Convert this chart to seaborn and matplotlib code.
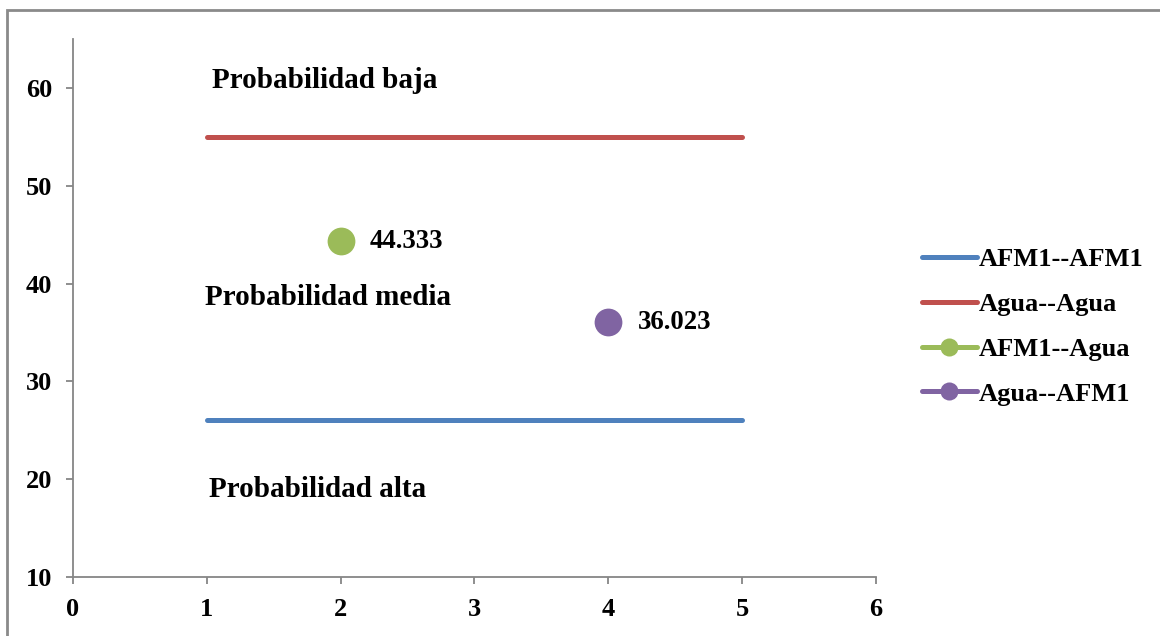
import matplotlib
matplotlib.use("Agg")
import matplotlib.pyplot as plt
from matplotlib.patches import Rectangle
import seaborn as sns
import pandas as pd

# Threshold lines (constant over x = 1..5)
line_x = [1, 5]
afm1_afm1 = [26.0, 26.0]
agua_agua = [55.0, 55.0]

# Cross-pair scores
afm1_agua_x = [2]
afm1_agua_y = [44.333]
agua_afm1_x = [4]
agua_afm1_y = [36.023]

series_names = ["AFM1--AFM1", "Agua--Agua", "AFM1--Agua", "Agua--AFM1"]
series_colors = ["#4F81BD", "#C0504D", "#9BBB59", "#8064A2"]

zone_labels = ["Probabilidad baja", "Probabilidad media", "Probabilidad alta"]
zone_pos = [(1.04, 60.8), (0.99, 38.6), (1.02, 18.9)]

x_ticks = [0, 1, 2, 3, 4, 5, 6]
y_ticks = [10, 20, 30, 40, 50, 60]

sns.set_style("white")
plt.rcParams["font.family"] = ["Liberation Serif", "DejaVu Serif"]
plt.rcParams["font.weight"] = "bold"
plt.rcParams["text.color"] = "black"
plt.rcParams["xtick.color"] = "black"
plt.rcParams["ytick.color"] = "black"

fig = plt.figure(figsize=(11.6, 6.36), dpi=100)
ax = fig.add_axes([0.0629, 0.0928, 0.6922, 0.8459])

lw = 3.6
sns.lineplot(data=pd.DataFrame({"x": line_x, "y": afm1_afm1}), x="x", y="y",
             color=series_colors[0], linewidth=lw, label=series_names[0], ax=ax,
             legend=False)
sns.lineplot(data=pd.DataFrame({"x": line_x, "y": agua_agua}), x="x", y="y",
             color=series_colors[1], linewidth=lw, label=series_names[1], ax=ax,
             legend=False)
sns.lineplot(data=pd.DataFrame({"x": afm1_agua_x, "y": afm1_agua_y}), x="x", y="y",
             color=series_colors[2], linewidth=lw, marker="o", markersize=20,
             markeredgewidth=0, label=series_names[2], ax=ax, legend=False)
sns.lineplot(data=pd.DataFrame({"x": agua_afm1_x, "y": agua_afm1_y}), x="x", y="y",
             color=series_colors[3], linewidth=lw, marker="o", markersize=20,
             markeredgewidth=0, label=series_names[3], ax=ax, legend=False)

for x, y in zip(afm1_agua_x + agua_afm1_x, afm1_agua_y + agua_afm1_y):
    ax.annotate(f"{y:.3f}", (x, y), xytext=(21, 0), textcoords="offset points",
                ha="left", va="center", fontsize=19.3, fontweight="bold",
                color="black")

for text, (x, y) in zip(zone_labels, zone_pos):
    ax.text(x, y, text, ha="left", va="center", fontsize=21,
            fontweight="bold", color="black")

ax.set_xlim(0, 6)
ax.set_ylim(10, 65)
ax.set_xticks(x_ticks)
ax.set_yticks(y_ticks)
ax.set_xticklabels([str(v) for v in x_ticks])
ax.set_yticklabels([str(v) for v in y_ticks])
ax.set_xlabel("")
ax.set_ylabel("")

spine_color = "#868686"
for side in ["top", "right"]:
    ax.spines[side].set_visible(False)
for side in ["left", "bottom"]:
    ax.spines[side].set_color(spine_color)
    ax.spines[side].set_linewidth(1.3)
ax.tick_params(axis="both", which="major", direction="out", length=5,
               width=1.3, color=spine_color, labelcolor="black", labelsize=19,
               pad=10, left=True, bottom=True)
for lab in ax.get_xticklabels() + ax.get_yticklabels():
    lab.set_fontweight("bold")

handles, labels = ax.get_legend_handles_labels()
leg = fig.legend(handles, labels, loc="center left",
                 bbox_to_anchor=(0.7945, 0.4865), frameon=False,
                 handlelength=2.1, handletextpad=0.05, labelspacing=0.81,
                 borderpad=0, borderaxespad=0, markerscale=0.65,
                 prop={"weight": "bold", "size": 19})
for t in leg.get_texts():
    t.set_color("black")

fig.add_artist(Rectangle((0.006, -0.5), 2.0, 1.4843, transform=fig.transFigure,
                         fill=False, edgecolor="#8A8A8A", linewidth=2.0))

fig.savefig("out.png", dpi=100)
